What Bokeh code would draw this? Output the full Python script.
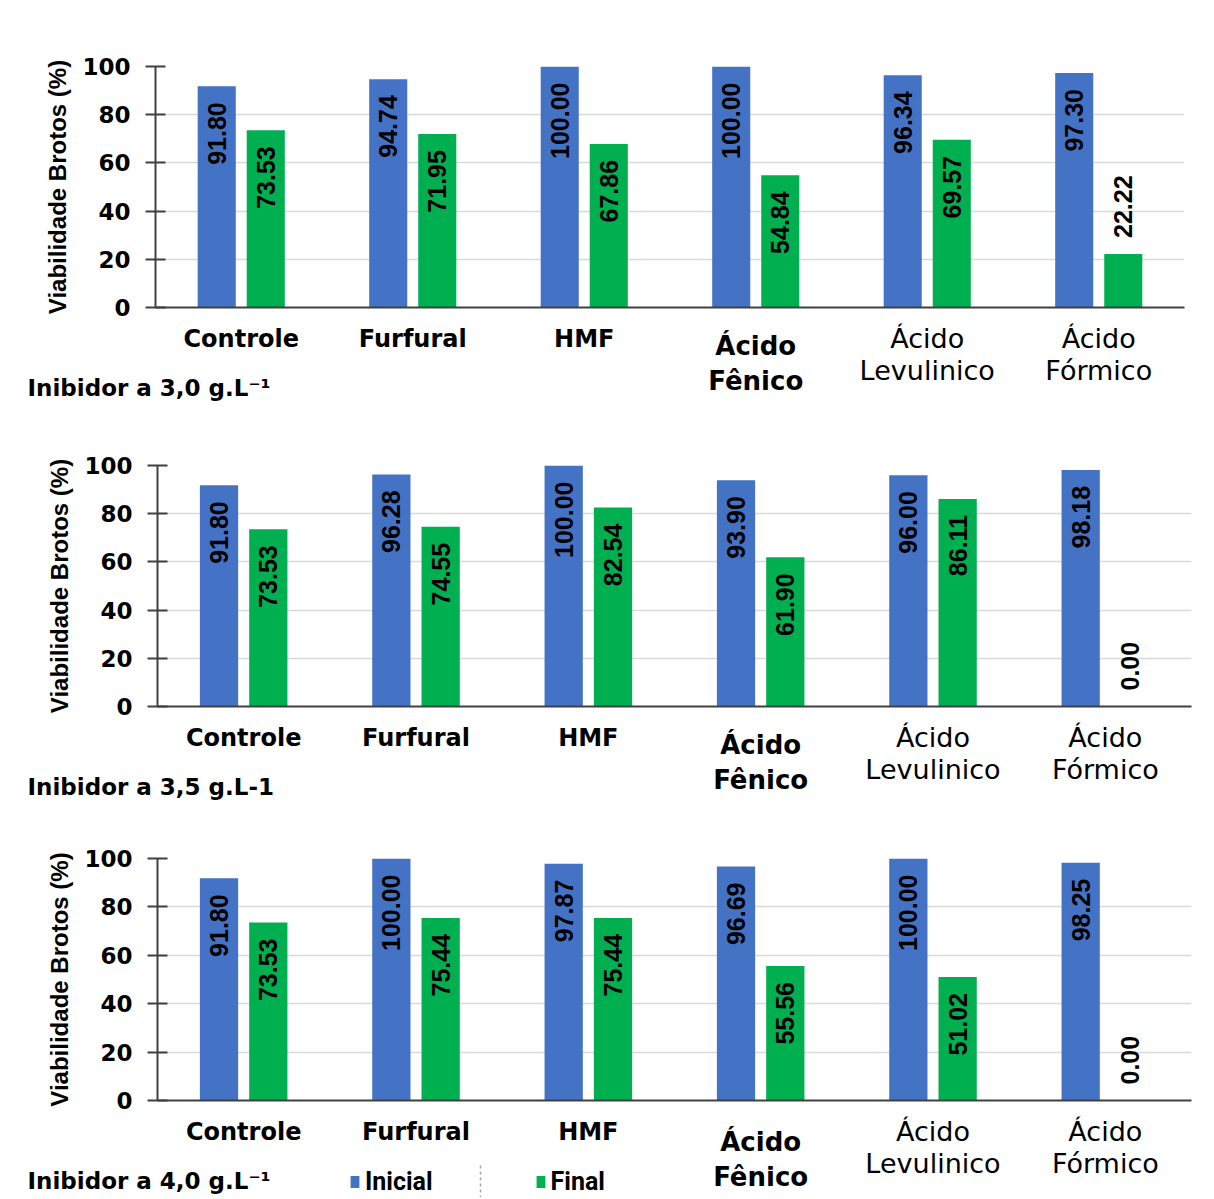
import math
from bokeh.plotting import figure
from bokeh.models import ColumnDataSource, Range1d, FixedTicker, Legend, LegendItem
from bokeh.layouts import column
from bokeh.transform import dodge
from bokeh.core.properties import value
from bokeh.embed import file_html
from bokeh.resources import INLINE

# ---------------- data ----------------
categories = ["Controle", "Furfural", "HMF", "Ácido Fênico", "Ácido Levulinico", "Ácido Fórmico"]
series_names = ["Inicial", "Final"]
inicial_30 = [91.80, 94.74, 100.00, 100.00, 96.34, 97.30]
final_30 = [73.53, 71.95, 67.86, 54.84, 69.57, 22.22]
inicial_35 = [91.80, 96.28, 100.00, 93.90, 96.00, 98.18]
final_35 = [73.53, 74.55, 82.54, 61.90, 86.11, 0.00]
inicial_40 = [91.80, 100.00, 97.87, 96.69, 100.00, 98.25]
final_40 = [73.53, 75.44, 75.44, 55.56, 51.02, 0.00]
panel_titles = ["Inibidor a 3,0 g.L⁻¹", "Inibidor a 3,5 g.L-1", "Inibidor a 4,0 g.L⁻¹"]
y_ticks = [0, 20, 40, 60, 80, 100]
y_title = "Viabilidade Brotos (%)"

# ---------------- style / layout ----------------
BLUE = "#4472C4"
GREEN = "#00B050"
AXIS = "#404040"
GRID = "#d9d9d9"
W = 1214
BAR_W = 0.222
OFF = 0.143
NCAT = len(categories)

panels = [
    dict(ini=inicial_30, fin=final_30, title=panel_titles[0], left=155, fw=1029, top=66, fh=241,
         text_h=97, fenico=(22, 57), legend=False),
    dict(ini=inicial_35, fin=final_35, title=panel_titles[1], left=157, fw=1034, top=45, fh=241,
         text_h=90, fenico=(22, 57), legend=False),
    dict(ini=inicial_40, fin=final_40, title=panel_titles[2], left=157, fw=1034, top=46, fh=242,
         text_h=81, fenico=(25, 60), legend=True),
]
GAP_BOTTOM = 16
LINE1, LINE2, TITLE_Y = 15, 47, 64


def make_panel(cfg):
    fw, fh = cfg["fw"], cfg["fh"]
    px_y = fh / 100.0
    H = cfg["top"] + fh + GAP_BOTTOM

    p = figure(width=W, height=H, output_backend="svg", toolbar_location=None,
               x_range=Range1d(-0.5, NCAT - 0.5), y_range=Range1d(0, 100),
               min_border_left=cfg["left"], min_border_right=W - cfg["left"] - fw,
               min_border_top=cfg["top"], min_border_bottom=GAP_BOTTOM)
    p.title = None
    p.frame_align = False
    p.outline_line_color = None
    p.xgrid.visible = False
    p.ygrid.grid_line_color = GRID
    p.ygrid.grid_line_width = 1.5
    p.ygrid.ticker = FixedTicker(ticks=y_ticks)

    ya = p.yaxis[0]
    ya.ticker = FixedTicker(ticks=y_ticks)
    ya.axis_line_color = AXIS
    ya.axis_line_width = 2
    ya.major_tick_line_color = AXIS
    ya.major_tick_line_width = 2
    ya.major_tick_in = 10
    ya.major_tick_out = 10
    ya.minor_tick_line_color = None
    ya.major_label_text_font = "DejaVu Sans"
    ya.major_label_text_font_style = "bold"
    ya.major_label_text_font_size = "23px"
    ya.major_label_text_color = "black"
    ya.major_label_standoff = 15
    ya.axis_label = y_title
    ya.axis_label_text_font = "Liberation Sans"
    ya.axis_label_text_font_style = "bold"
    ya.axis_label_text_font_size = "24px"
    ya.axis_label_text_color = "black"
    ya.axis_label_standoff = 8

    xa = p.xaxis[0]
    xa.ticker = FixedTicker(ticks=[])
    xa.axis_line_color = AXIS
    xa.axis_line_width = 2
    xa.major_tick_line_color = None
    xa.minor_tick_line_color = None
    xa.major_tick_out = 0
    xa.major_label_standoff = 0
    xa.major_label_text_font_size = "0px"

    src = ColumnDataSource(dict(x=list(range(NCAT)), ini=cfg["ini"], fin=cfg["fin"]))
    p.vbar(x=dodge("x", -OFF, range=p.x_range), top="ini", width=BAR_W, source=src,
           fill_color=BLUE, line_color=None)
    p.vbar(x=dodge("x", OFF, range=p.x_range), top="fin", width=BAR_W, source=src,
           fill_color=GREEN, line_color=None)

    # value labels: inside end if they fit, otherwise just above the bar
    label_len, gap = 65, 16
    for vals, off in ((cfg["ini"], -OFF), (cfg["fin"], OFF)):
        ins = dict(x=[], y=[], t=[])
        outs = dict(x=[], y=[], t=[])
        for i, v in enumerate(vals):
            txt = f"{v:.2f}"
            if v * px_y > label_len + 2 * gap:
                ins["x"].append(i + off); ins["y"].append(v - gap / px_y); ins["t"].append(txt)
            else:
                outs["x"].append(i + off); outs["y"].append(v + gap / px_y); outs["t"].append(txt)
        for d, align in ((ins, "right"), (outs, "left")):
            if d["x"]:
                p.text(x="x", y="y", text="t", source=ColumnDataSource(d), angle=math.pi / 2,
                       text_align=align, text_baseline="middle",
                       text_font=value("Liberation Sans"), text_font_style="bold",
                       text_font_size="25px", text_color="black")
    return p


def make_text_row(cfg):
    """Row under each panel: category names, concentration title and (last) the legend."""
    fw = cfg["fw"]
    H = cfg["text_h"]
    px_x = fw / NCAT
    left = cfg["left"]
    right = W - left - fw
    t = figure(width=W, height=H, output_backend="svg", toolbar_location=None,
               x_range=Range1d(-0.5 - left / px_x, NCAT - 0.5 + right / px_x),
               y_range=Range1d(H, 0), min_border=0,
               x_axis_location=None, y_axis_location=None)
    t.title = None
    t.frame_align = False
    t.outline_line_color = None
    t.grid.visible = False

    groups = {
        "plain": dict(x=[], y=[], t=[]),
        "acido": dict(x=[], y=[], t=[]),
        "fenico": dict(x=[], y=[], t=[]),
    }
    for i, cat in enumerate(categories):
        if cat == "Ácido Fênico":
            a, b = cat.split(" ", 1)
            g = groups["fenico"]
            g["x"] += [i, i]; g["y"] += list(cfg["fenico"]); g["t"] += [a, b]
        elif cat.startswith("Ácido"):
            a, b = cat.split(" ", 1)
            g = groups["acido"]
            g["x"] += [i, i]; g["y"] += [LINE1, LINE2]; g["t"] += [a, b]
        else:
            g = groups["plain"]
            g["x"].append(i); g["y"].append(LINE1); g["t"].append(cat)
    styles = {"plain": ("bold", "24px"), "acido": ("normal", "27px"), "fenico": ("bold", "26px")}
    for key, d in groups.items():
        fs, sz = styles[key]
        t.text(x="x", y="y", text="t", source=ColumnDataSource(d), text_align="center",
               text_baseline="alphabetic", text_font=value("DejaVu Sans"),
               text_font_style=fs, text_font_size=sz, text_color="black")

    # concentration title
    tx = -0.5 + (27 - left) / px_x
    t.text(x=[tx], y=[TITLE_Y], text=[cfg["title"]], text_align="left", text_baseline="alphabetic",
           text_font=value("DejaVu Sans"), text_font_style="bold", text_font_size="23px",
           text_color="black")

    if cfg["legend"]:
        # zero-height bars that only supply the legend swatches
        lsrc = ColumnDataSource(dict(x=list(range(NCAT)), ini=cfg["ini"], fin=cfg["fin"]))
        r1 = t.vbar(x="x", top="ini", bottom="ini", width=0.0, source=lsrc,
                    fill_color=BLUE, line_color=None)
        r2 = t.vbar(x="x", top="fin", bottom="fin", width=0.0, source=lsrc,
                    fill_color=GREEN, line_color=None)
        leg = Legend(items=[LegendItem(label=series_names[0], renderers=[r1], index=0),
                            LegendItem(label=series_names[1], renderers=[r2], index=0)],
                     orientation="horizontal", location=(349, 1),
                     padding=0, margin=0, spacing=102, glyph_width=11, glyph_height=15,
                     label_standoff=5, border_line_color=None, background_fill_alpha=0,
                     label_text_font="Roboto", label_text_font_style="bold",
                     label_text_font_size="25px", label_text_color="black")
        t.add_layout(leg, "center")
        sx = -0.5 + (480 - left) / px_x
        t.segment(x0=[sx], y0=[49], x1=[sx], y1=[H], line_color="#a6a6a6",
                  line_width=1.5, line_dash="3 3")
    return t


rows = []
for c in panels:
    rows.append(make_panel(c))
    rows.append(make_text_row(c))

layout = column(*rows, spacing=0)

open("out.html", "w").write(file_html(layout, INLINE))
